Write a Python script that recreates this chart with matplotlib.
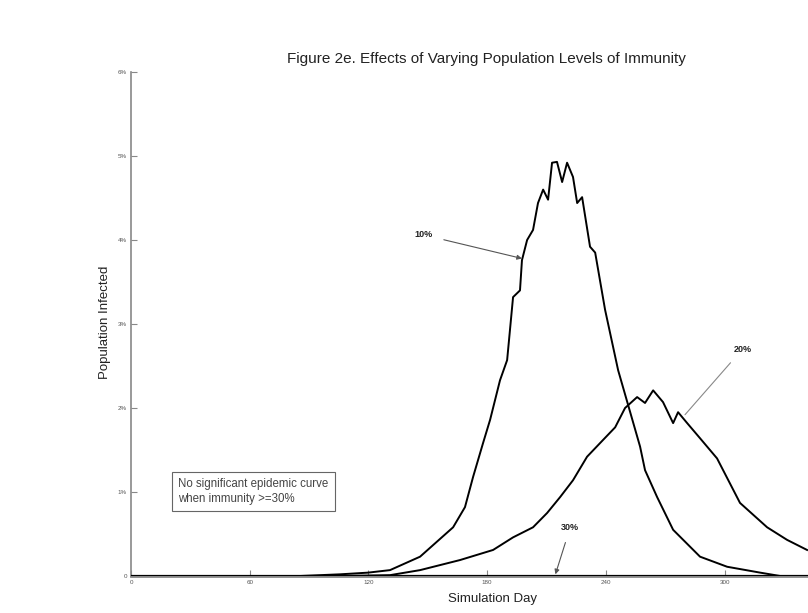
import matplotlib
matplotlib.use("Agg")
import matplotlib.pyplot as plt
import numpy as np

# ---- data ----
days_10 = [0, 85.4, 105.7, 119.8, 130.9, 146.1, 162.8, 168.8, 172.9, 177.9, 181.5, 186.5, 190.1,
           193.1, 196.6, 197.6, 200.2, 203.2, 205.7, 208.3, 210.8, 212.8, 215.3, 217.9, 220.4,
           223.4, 225.5, 228.0, 232.0, 234.6, 239.6, 246.2, 251.2, 257.3, 259.8, 265.9, 274.0,
           287.6, 301.3, 318.0, 328.1, 350]
pct_10 = [0, 0, 0.02, 0.04, 0.07, 0.23, 0.58, 0.82, 1.18, 1.58, 1.86, 2.33, 2.57,
          3.32, 3.40, 3.76, 4.00, 4.12, 4.44, 4.60, 4.48, 4.92, 4.93, 4.69, 4.92,
          4.75, 4.44, 4.51, 3.92, 3.85, 3.17, 2.45, 2.04, 1.54, 1.26, 0.94, 0.55,
          0.23, 0.11, 0.04, 0, 0]

days_20 = [0, 105.7, 130.9, 146.1, 166.3, 183.0, 193.1, 203.2, 210.3, 216.9, 223.4, 230.5,
           238.6, 244.7, 249.7, 255.8, 259.8, 263.9, 268.9, 274.0, 276.5, 281.1, 287.6,
           296.2, 307.8, 321.5, 331.6, 341.7]
pct_20 = [0, 0, 0.01, 0.07, 0.19, 0.31, 0.46, 0.58, 0.75, 0.94, 1.14, 1.42,
          1.62, 1.77, 2.00, 2.13, 2.06, 2.21, 2.07, 1.82, 1.95, 1.82, 1.64,
          1.40, 0.87, 0.58, 0.43, 0.31]

days_30 = [0, 350]
pct_30 = [0, 0]

x_ticks = [0, 60, 120, 180, 240, 300]
x_ticklabels = ["0", "60", "120", "180", "240", "300"]
y_ticks = [0, 1, 2, 3, 4, 5, 6]
y_ticklabels = ["0", "1%", "2%", "3%", "4%", "5%", "6%"]

title = "Figure 2e. Effects of Varying Population Levels of Immunity"
note = "No significant epidemic curve\nwhen immunity >=30%"

plt.rcParams['font.family'] = ['Liberation Sans', 'DejaVu Sans']

fig = plt.figure(figsize=(8.08, 6.13), dpi=100)
ax = fig.add_axes([131/808, 1-576/613, (823.5-131)/808, (576-72)/613])

ax.plot(days_30, pct_30, color='black', lw=1.6, zorder=3)
ax.plot(days_20, pct_20, color='black', lw=1.4, zorder=3)
ax.plot(days_10, pct_10, color='black', lw=1.4, zorder=3)

ax.set_xlim(0, 350)
ax.set_ylim(0, 6)
ax.set_xticks(x_ticks)
ax.set_xticklabels(x_ticklabels)
ax.set_yticks(y_ticks)
ax.set_yticklabels(y_ticklabels)
ax.tick_params(direction='in', length=4, width=0.8, colors='#888888', labelsize=4.5,
               labelcolor='#555555', pad=3)

for s in ['top', 'right']:
    ax.spines[s].set_visible(False)
ax.spines['left'].set_color('#888888')
ax.spines['bottom'].set_color('#888888')
ax.spines['left'].set_linewidth(1.2)
ax.spines['bottom'].set_linewidth(2.0)

fig.text(486/808, 1-59/613, title, ha='center', va='center', fontsize=11, color='#222222')
fig.text(105/808, 1-322/613, "Population Infected", rotation=90, ha='center', va='center',
         fontsize=9.5, color='#222222')
fig.text(492/808, 1-599/613, "Simulation Day", ha='center', va='center', fontsize=9.5,
         color='#222222')

ax.annotate("10%", xy=(197.6, 3.78), xytext=(148, 4.06), fontsize=6.5, fontweight='bold',
            ha='center', va='center', color='#222222',
            arrowprops=dict(arrowstyle='-|>', color='#555555', lw=0.8, mutation_scale=7,
                            shrinkA=6, shrinkB=0))
ax.annotate("20%", xy=(280, 1.92), xytext=(309, 2.70), fontsize=6.5, fontweight='bold',
            ha='center', va='center', color='#222222',
            arrowprops=dict(arrowstyle='-', color='#888888', lw=0.8, shrinkA=6, shrinkB=0))
ax.annotate("30%", xy=(214.5, 0.02), xytext=(222, 0.58), fontsize=6.5, fontweight='bold',
            ha='center', va='center', color='#222222',
            arrowprops=dict(arrowstyle='-|>', color='#555555', lw=0.8, mutation_scale=7,
                            shrinkA=6, shrinkB=0))

ax.text((178-131)/1.978, (576-478)/84, note, fontsize=8.3, color='#444444',
        ha='left', va='top', linespacing=1.3,
        bbox=dict(boxstyle='square,pad=0.55', facecolor='white', edgecolor='#666666', lw=0.8))

fig.savefig("out.png", dpi=100)
